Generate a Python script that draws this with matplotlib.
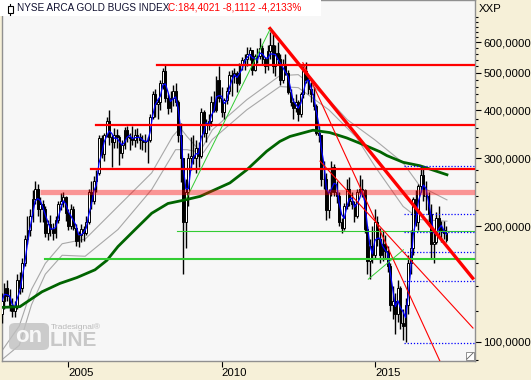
import numpy as np
import pandas as pd
import matplotlib
matplotlib.use("Agg")
import matplotlib.pyplot as plt
from matplotlib.patches import Rectangle, FancyBboxPatch
from matplotlib.lines import Line2D
from matplotlib.ticker import FixedLocator, NullFormatter

# monthly candles, Nov 2002 .. May 2017
first_month = (2002, 11)
first_open = 118.0
closes = [128, 138,
          132, 125, 120, 124, 145, 138, 160, 185, 195, 212, 235, 250,
          222, 228, 222, 192, 202, 196, 192, 207, 228, 232, 238, 216,
          200, 222, 198, 183, 190, 196, 192, 205, 245, 232, 262, 275,
          338, 308, 345, 375, 340, 330, 345, 340, 310, 325, 355, 340,
          338, 335, 345, 340, 335, 330, 332, 335, 385, 440, 415, 420,
          470, 505, 430, 405, 430, 450, 420, 345, 300, 205, 245, 300,
          305, 300, 320, 305, 395, 350, 370, 375, 420, 400, 480, 430,
          395, 425, 450, 495, 490, 500, 470, 525, 540, 545, 560, 573,
          510, 555, 555, 580, 545, 520, 570, 590, 520, 565, 545, 480,
          525, 500, 445, 420, 405, 420, 390, 440, 505, 480, 455, 440,
          410, 350, 345, 265, 265, 220, 245, 285, 245, 240, 205, 198,
          225, 250, 232, 228, 212, 245, 250, 248, 196, 162, 178, 168,
          205, 185, 168, 180, 172, 158, 125, 128, 118, 138, 112, 110,
          125, 160, 175, 235, 205, 255, 272, 240, 240, 215, 180, 182,
          210, 198, 195, 192, 184.4]
highs = [134, 142,
         145, 137, 130, 128, 150, 152, 165, 190, 212, 222, 248, 262,
         258, 238, 234, 226, 208, 214, 204, 212, 232, 244, 245, 240,
         222, 228, 226, 202, 194, 202, 200, 212, 250, 262, 270, 280,
         345, 345, 350, 385, 400, 345, 360, 358, 345, 335, 362, 365,
         350, 365, 358, 360, 350, 345, 348, 340, 390, 448, 455, 430,
         480, 515, 525, 440, 450, 465, 470, 425, 370, 300, 265, 310,
         340, 345, 335, 330, 405, 400, 380, 390, 435, 450, 490, 520,
         460, 430, 460, 505, 510, 515, 505, 530, 550, 560, 585, 585,
         575, 560, 580, 615, 590, 550, 590, 640, 630, 590, 600, 560,
         545, 560, 510, 455, 430, 440, 425, 445, 520, 535, 490, 475,
         460, 415, 365, 345, 295, 275, 250, 295, 290, 262, 245, 210,
         230, 265, 268, 245, 232, 250, 272, 265, 250, 200, 185, 200,
         222, 212, 198, 195, 190, 178, 160, 140, 134, 145, 140, 122,
         130, 168, 195, 238, 248, 258, 287, 285, 262, 245, 228, 195,
         218, 225, 206, 206, 200]
lows = [112, 122,
        128, 120, 116, 116, 122, 133, 135, 158, 180, 188, 205, 228,
        212, 205, 205, 187, 184, 188, 184, 186, 204, 220, 224, 206,
        195, 196, 195, 178, 176, 182, 183, 190, 203, 222, 228, 245,
        272, 300, 295, 340, 325, 285, 320, 320, 288, 300, 318, 330,
        315, 325, 322, 328, 318, 315, 312, 292, 330, 380, 385, 380,
        400, 455, 420, 390, 395, 410, 410, 330, 260, 150, 175, 225,
        280, 290, 275, 285, 300, 340, 330, 355, 365, 395, 395, 420,
        385, 380, 415, 440, 435, 470, 445, 465, 510, 510, 520, 540,
        495, 505, 530, 545, 525, 500, 510, 545, 500, 490, 525, 465,
        470, 495, 440, 410, 380, 395, 375, 385, 430, 470, 440, 420,
        400, 345, 330, 255, 250, 208, 210, 240, 240, 230, 200, 192,
        195, 222, 225, 222, 205, 210, 242, 238, 192, 150, 146, 160,
        165, 178, 160, 162, 165, 152, 120, 115, 105, 113, 108, 101,
        100, 118, 150, 168, 200, 195, 245, 232, 220, 205, 165, 160,
        180, 190, 182, 185, 182]

# long moving average (dark green)
green_t = [2002.84, 2003.42, 2004.14, 2004.73, 2005.28, 2005.87, 2006.26, 2006.62,
           2007.18, 2007.72, 2008.25, 2008.81, 2009.30, 2010.27, 2010.82, 2011.47,
           2011.90, 2012.23, 2012.98, 2013.53, 2014.08, 2014.61, 2015.17, 2015.39,
           2015.92, 2016.47, 2017.35]
green_v = [123, 123.5, 135, 142, 147, 154, 163, 177,
           196, 216, 229, 234, 239, 259, 280, 313,
           332, 342, 355, 350, 339, 326, 312, 305,
           293, 287, 272]

# the two slow gray averages
gray_a_t = [2002.84, 2003.40, 2003.80, 2004.25, 2004.80, 2005.55, 2006.62, 2007.72,
            2008.40, 2008.65, 2008.87, 2009.30, 2009.70, 2010.82, 2011.90, 2012.50,
            2012.85, 2013.50, 2014.10, 2015.00, 2015.92, 2016.47, 2017.35]
gray_a_v = [95, 110, 137, 160, 180, 185, 225, 275,
            342, 360, 342, 313, 356, 426, 492, 495,
            471, 426, 378, 335, 292, 254, 234]
gray_b_t = [2002.84, 2003.40, 2003.80, 2004.25, 2004.80, 2005.55, 2006.62, 2007.72,
            2008.50, 2008.87, 2009.40, 2009.70, 2010.82, 2011.90, 2012.50, 2013.50,
            2014.40, 2015.00, 2015.92, 2016.47, 2017.35]
gray_b_v = [90, 98, 125, 150, 168, 167, 196, 249,
            316, 316, 310, 336, 401, 461, 458, 401,
            340, 286, 225, 208, 206]

# horizontal support / resistance lines: (start, level)
red_levels = [(2007.89, 523), (2005.90, 367), (2005.74, 282)]
pink_level = (2004.08, 245.6)
green_level = (2004.24, 164.7)
green_thin_level = (2008.54, 194.5)

# trend lines: ((t0, v0), (t1, v1))
red_thick_trend = ((2011.58, 652), (2018.19, 146.5))
red_thin_trends = [((2012.65, 532), (2017.12, 89.2)),
                   ((2013.21, 295), (2018.20, 108.7))]
green_trends = [((2008.86, 236.6), (2011.58, 649)),
                ((2014.785, 145.6), (2015.93, 173.6))]

# fibonacci retracement levels
fib_start = 2015.95
fib_levels = [287, 215.5, 193.3, 171.2, 143.8, 99.6]

W, H = 531, 380
plt.rcParams["font.family"] = ["Liberation Sans", "DejaVu Sans"]
fig = plt.figure(figsize=(W / 100, H / 100), dpi=100)
fig.patch.set_facecolor("#f6f0d8")
ax = fig.add_axes([1.5 / W, 19 / H, (475 - 1.5) / W, (H - 19) / H])
ax.set_facecolor("#f7f7f7")

n = len(closes)
y0, m0 = first_month
t = np.array([y0 + (m0 - 1 + k) / 12 for k in range(n)])
c = np.array(closes, float)
o = np.concatenate([[first_open], c[:-1]])
hi = np.array(highs, float)
lo = np.array(lows, float)

# short moving average from the closes
blue_ma = pd.Series(c).rolling(3, min_periods=1).mean()

ax.plot(gray_b_t, gray_b_v, color="#a8a8a8", lw=0.8, zorder=2)
ax.plot(gray_a_t, gray_a_v, color="#a8a8a8", lw=0.8, zorder=2)

# candles
ax.vlines(t, lo, hi, color="black", lw=1.0, zorder=3)
bw = 0.7 / 12
up = c >= o
ax.bar(t[up], (c - o)[up], bottom=o[up], width=bw, color="white",
       edgecolor="black", lw=0.7, zorder=4)
ax.bar(t[~up], (o - c)[~up], bottom=c[~up], width=bw, color="black",
       edgecolor="black", lw=0.7, zorder=4)

ax.plot(t, blue_ma, color="#0000ff", lw=0.9, zorder=5)
ax.plot(green_t, green_v, color="#006400", lw=2.0, zorder=5)

x_end = 2018.4
for ts, lvl in red_levels:
    ax.plot([ts, x_end], [lvl, lvl], color="#ff0000", lw=1.6, zorder=6)
ax.plot([pink_level[0], x_end], [pink_level[1]] * 2, color="#ff0000",
        alpha=0.4, lw=3.8, solid_capstyle="butt", zorder=7)
ax.plot([green_level[0], x_end], [green_level[1]] * 2, color="#33cc33",
        lw=1.5, zorder=6)
ax.plot([green_thin_level[0], x_end], [green_thin_level[1]] * 2,
        color="#33cc33", lw=0.8, zorder=6)

for lvl in fib_levels:
    ax.plot([fib_start, x_end], [lvl, lvl], color="#0000ff", lw=0.9,
            ls=(0, (1, 1.5)), zorder=6)

(a, b) = red_thick_trend
ax.plot([a[0], b[0]], [a[1], b[1]], color="#ff0000", lw=2.4, zorder=6)
for a, b in red_thin_trends:
    ax.plot([a[0], b[0]], [a[1], b[1]], color="#ff0000", lw=0.8, zorder=6)
for a, b in green_trends:
    ax.plot([a[0], b[0]], [a[1], b[1]], color="#33cc33", lw=0.7, zorder=6)

# axes
ax.set_yscale("log")
ax.set_xlim(2002.821, 2018.265)
ax.set_ylim(89.24, 773.7)
major = [100, 200, 300, 400, 500, 600]
minor = [90] + [v for v in range(120, 701, 20) if v not in major]
ax.yaxis.tick_right()
ax.yaxis.set_major_locator(FixedLocator(major))
ax.yaxis.set_minor_locator(FixedLocator(minor))
ax.yaxis.set_minor_formatter(NullFormatter())
ax.set_yticklabels([f"{v},0000" for v in major])
ax.tick_params(axis="y", which="major", length=4, width=0.8, pad=2,
               labelsize=8.2, colors="black")
ax.tick_params(axis="y", which="minor", length=2.5, width=0.8)
ax.set_xticks([2005, 2010, 2015])
ax.set_xticklabels(["2005", "2010", "2015"], ha="left")
ax.tick_params(axis="x", length=4, width=0.8, pad=1, labelsize=8.2)
for s in ax.spines.values():
    s.set_color("#909090")
    s.set_linewidth(1)

# header box
fig.add_artist(Rectangle((0, 1 - 16 / H), 321 / W, 16 / H,
                         transform=fig.transFigure, facecolor="white",
                         edgecolor="none", zorder=10))
fig.add_artist(Line2D([10 / W, 10 / W], [1 - 4 / H, 1 - 15 / H],
                      transform=fig.transFigure, color="black", lw=0.8, zorder=11))
fig.add_artist(Rectangle((8 / W, 1 - 12.5 / H), 4.5 / W, 6 / H,
                         transform=fig.transFigure, facecolor="white",
                         edgecolor="black", lw=0.8, zorder=12))
fig.text(17 / W, 1 - 3 / H, "NYSE ARCA GOLD BUGS INDEX", fontsize=7.2,
         color="#101030", va="top", zorder=12)
fig.text(168 / W, 1 - 3 / H, "C:184,4021 -8,1112 -4,2133%", fontsize=7.2,
         color="#ff0000", va="top", zorder=12)
fig.text(479 / W, 1 - 4 / H, "XXP", fontsize=8.2, color="black", va="top")

# watermark logo
fig.add_artist(FancyBboxPatch((9 / W, 1 - 350 / H), 40 / W, 27 / H,
                              boxstyle="round,pad=0,rounding_size=0.012",
                              transform=fig.transFigure, facecolor="#c0c0c0",
                              edgecolor="none", alpha=0.8, zorder=8))
fig.text(29 / W, 1 - 337 / H, "on", fontsize=16, fontweight="bold",
         color="#f7f7f7", ha="center", va="center", zorder=9)
fig.text(50 / W, 1 - 341 / H, "LINE", fontsize=15, fontweight="bold",
         color="#c8c8c8", va="center", zorder=9)
fig.text(51 / W, 1 - 327 / H, "Tradesignal\u00ae", fontsize=6,
         color="#b8b8b8", va="center", zorder=9)

# resize glyph bottom right
fig.add_artist(Rectangle((466 / W, 1 - 360 / H), 8 / W, 8 / H,
                         transform=fig.transFigure, facecolor="white",
                         edgecolor="#808080", lw=0.6, zorder=10))
fig.add_artist(Line2D([467 / W, 473 / W], [1 - 359 / H, 1 - 353 / H],
                      transform=fig.transFigure, color="#606060", lw=0.6, zorder=11))

fig.savefig("out.png", dpi=100, facecolor=fig.get_facecolor())
